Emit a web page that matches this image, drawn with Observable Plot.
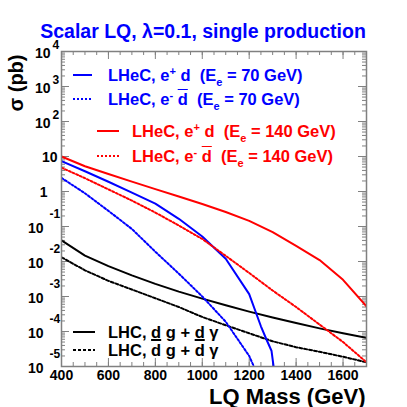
<!DOCTYPE html>
<html><head><meta charset="utf-8">
<script src="https://cdn.jsdelivr.net/npm/d3@7"></script>
<script src="https://cdn.jsdelivr.net/npm/@observablehq/plot@0.6"></script>
<style>
html,body{margin:0;padding:0;background:#fff;}
#wrap{position:relative;width:407px;height:407px;font-family:"Liberation Sans",Arial,Helvetica,sans-serif;font-weight:bold;}
#wrap svg{display:block;}
.row{position:absolute;height:17px;font-size:16.5px;line-height:17px;white-space:pre;}
.sup{font-size:11px;position:relative;top:-6px;}
.sub{font-size:11px;position:relative;top:5px;}
.ob{text-decoration:overline;}
.ub{text-decoration:underline;}
</style></head><body><div id="wrap"></div>
<script>
// ---- data (σ in pb vs LQ mass in GeV) ----
const massFull = [400,500,600,700,800,900,1000,1100,1200,1300,1400,1500,1600,1700];
const lhec140Plus  = [10, 5.25, 3.16, 1.91, 1.17, 0.72, 0.44, 0.26, 0.145, 0.069, 0.028, 0.011, 0.0030, 0.00052];
const lhec140Minus = [4.8, 2.4, 1.15, 0.55, 0.25, 0.107, 0.044, 0.0145, 0.0047, 0.00148, 0.0005, 0.000158, 0.00005, 0.0000132];
const massBlueSolid = [400,500,600,700,800,900,1000,1100,1200,1250,1275,1295,1310];
const lhec70Plus   = [7.4, 3.8, 1.9, 0.93, 0.45, 0.166, 0.052, 0.012, 0.00117, 0.000141, 0.0000562, 0.0000282, 0.000005];
const massBlueDot  = [400,500,600,700,800,900,1000,1100,1200,1300];
const lhec70Minus  = [2.45, 0.89, 0.28, 0.085, 0.019, 0.0045, 0.001, 0.00019, 0.00002, 0.00000063];
const lhcD    = [0.040, 0.0148, 0.0074, 0.0040, 0.0023, 0.00138, 0.00087, 0.00056, 0.00037, 0.00025, 0.000174, 0.000123, 0.000089, 0.000066];
const lhcDbar = [0.0132, 0.0056, 0.0028, 0.00158, 0.00089, 0.0005, 0.00026, 0.000151, 0.000089, 0.0000525, 0.0000355, 0.0000263, 0.000019, 0.0000132];

// ---- axes ----
const xTicks = [400,600,800,1000,1200,1400,1600];
const yTicksPos = [1e4,1e3,1e2];
const yTicksNeg = [1e-1,1e-2,1e-3,1e-4,1e-5];

// ---- texts ----
const titleText = "Scalar LQ, λ=0.1, single production";
const xTitle = "LQ Mass (GeV)";
const yTitle = "σ (pb)";
const legendLabels = [
  'LHeC, e<span class="sup">+</span> d  (E<span class="sub">e</span> = 70 GeV)',
  'LHeC, e<span class="sup">-</span> <span class="ob">d</span>  (E<span class="sub">e</span> = 70 GeV)',
  'LHeC, e<span class="sup">+</span> d  (E<span class="sub">e</span> = 140 GeV)',
  'LHeC, e<span class="sup">-</span> <span class="ob">d</span>  (E<span class="sub">e</span> = 140 GeV)',
  'LHC, <span class="ub">d</span> g + <span class="ub">d</span> γ',
  'LHC, <span class="ob">d</span> g + <span class="ob">d</span> γ'
];

const BLUE = "#0000ff", RED = "#ff0000", BLACK = "#000000", AX = "#808080";
const zip = (xs, ys) => xs.map((m, i) => ({m, s: ys[i]}));

const W = 407, H = 407, mL = 61, mR = 41, mT = 51, mB = 41;
const PW = W - mL - mR, PH = H - mT - mB;

const yMinor = [];
for (let e = -5; e < 4; e++) for (let k = 2; k <= 9; k++) yMinor.push(k * Math.pow(10, e));
const yMajor = [1e-5,1e-4,1e-3,1e-2,1e-1,1,10,1e2,1e3,1e4];
const xMinor = d3.range(400, 1701, 50);

const font = {fontWeight: "bold"};
const lineOpts = (stroke, dash) => ({x: "m", y: "s", stroke, strokeWidth: 2, strokeDasharray: dash, clip: true});

const chart = Plot.plot({
  width: W, height: H,
  marginLeft: mL, marginRight: mR, marginTop: mT, marginBottom: mB,
  style: {fontFamily: "'Liberation Sans', Arial, Helvetica, sans-serif", fontWeight: "bold", background: "white", overflow: "visible"},
  x: {domain: [400, 1700], label: null},
  y: {type: "log", domain: [1e-5, 1e4], label: null},
  marks: [
    // ticks (inside the frame, on all four sides)
    Plot.tickY(yMinor, {y: d => d, stroke: AX, insetRight: PW - 4}),
    Plot.tickY(yMajor, {y: d => d, stroke: AX, insetRight: PW - 8}),
    Plot.tickY(yMinor, {y: d => d, stroke: AX, insetLeft: PW - 4}),
    Plot.tickY(yMajor, {y: d => d, stroke: AX, insetLeft: PW - 8}),
    Plot.tickX(xMinor, {x: d => d, stroke: AX, insetTop: PH - 4}),
    Plot.tickX(xTicks, {x: d => d, stroke: AX, insetTop: PH - 8}),
    Plot.tickX(xMinor, {x: d => d, stroke: AX, insetBottom: PH - 4}),
    Plot.tickX(xTicks, {x: d => d, stroke: AX, insetBottom: PH - 8}),
    // curves
    Plot.line(zip(massFull, lhcD), lineOpts(BLACK)),
    Plot.line(zip(massFull, lhcDbar), lineOpts(BLACK, "3,2")),
    Plot.line(zip(massBlueDot, lhec70Minus), lineOpts(BLUE, "2,2")),
    Plot.line(zip(massBlueSolid, lhec70Plus), lineOpts(BLUE)),
    Plot.line(zip(massFull, lhec140Minus), lineOpts(RED, "2,2")),
    Plot.line(zip(massFull, lhec140Plus), lineOpts(RED)),
    Plot.frame({stroke: AX, strokeWidth: 1.5}),
    // x tick labels
    Plot.axisX(xTicks, {tickSize: 0, tickPadding: 4, fontSize: 14, ...font, tickFormat: d => String(d), label: null}),
    // y tick labels: base and exponent
    Plot.axisY(yTicksPos, {tickSize: 0, tickPadding: 11, dy: 2, fontSize: 14, ...font, tickFormat: () => "10", label: null}),
    Plot.axisY(yTicksPos, {tickSize: 0, tickPadding: 9, dy: -6, textAnchor: "start", fontSize: 12, ...font, tickFormat: d => String(Math.round(Math.log10(d))), label: null}),
    Plot.axisY([10], {tickSize: 0, tickPadding: 4, dy: 1, fontSize: 14, ...font, tickFormat: () => "10", label: null}),
    Plot.axisY([1], {tickSize: 0, tickPadding: 14, dy: 1, fontSize: 14, ...font, tickFormat: () => "1", label: null}),
    Plot.axisY(yTicksNeg, {tickSize: 0, tickPadding: 18, dy: 2, fontSize: 14, ...font, tickFormat: () => "10", label: null}),
    Plot.axisY(yTicksNeg, {tickSize: 0, tickPadding: 12, dy: -12, textAnchor: "start", fontSize: 12, ...font, tickFormat: d => String(Math.round(Math.log10(d))), label: null}),
    // titles
    Plot.text([titleText], {text: d => d, frameAnchor: "top", lineAnchor: "middle", dx: -11, dy: -19.5, fill: BLUE, fontSize: 19.5, ...font}),
    Plot.text([xTitle], {text: d => d, frameAnchor: "bottom-right", lineAnchor: "middle", textAnchor: "end", dx: -1, dy: 30, fill: BLACK, fontSize: 22, ...font}),
    Plot.text([yTitle], {text: d => d, frameAnchor: "top-left", lineAnchor: "middle", textAnchor: "middle", rotate: -90, dx: -45, dy: 31.5, fill: BLACK, fontSize: 20, ...font})
  ]
});

const wrap = document.getElementById("wrap");
wrap.appendChild(chart);

// legend overlay (inside the frame, as in the reference)
const legendRows = [
  {x0: 73, x1: 92, tx: 108, cy: 75, color: BLUE, dash: null},
  {x0: 73, x1: 92, tx: 108, cy: 99, color: BLUE, dash: "2,2"},
  {x0: 97, x1: 119, tx: 132, cy: 131, color: RED, dash: null},
  {x0: 97, x1: 119, tx: 132, cy: 156, color: RED, dash: "2,2"},
  {x0: 73, x1: 95, tx: 108, cy: 332, color: BLACK, dash: null},
  {x0: 73, x1: 95, tx: 108, cy: 350, color: BLACK, dash: "3,2"}
];
legendRows.forEach((r, i) => {
  const svgNS = "http://www.w3.org/2000/svg";
  const s = document.createElementNS(svgNS, "svg");
  s.setAttribute("width", r.x1 - r.x0); s.setAttribute("height", 4);
  s.style.position = "absolute"; s.style.left = r.x0 + "px"; s.style.top = (r.cy - 2) + "px";
  const l = document.createElementNS(svgNS, "line");
  l.setAttribute("x1", 0); l.setAttribute("x2", r.x1 - r.x0); l.setAttribute("y1", 2); l.setAttribute("y2", 2);
  l.setAttribute("stroke", r.color); l.setAttribute("stroke-width", 2);
  if (r.dash) l.setAttribute("stroke-dasharray", r.dash);
  s.appendChild(l); wrap.appendChild(s);
  const d = document.createElement("div");
  d.className = "row"; d.style.left = r.tx + "px"; d.style.top = (r.cy - 8.5) + "px"; d.style.color = r.color;
  d.innerHTML = legendLabels[i];
  wrap.appendChild(d);
});
</script></body></html>
